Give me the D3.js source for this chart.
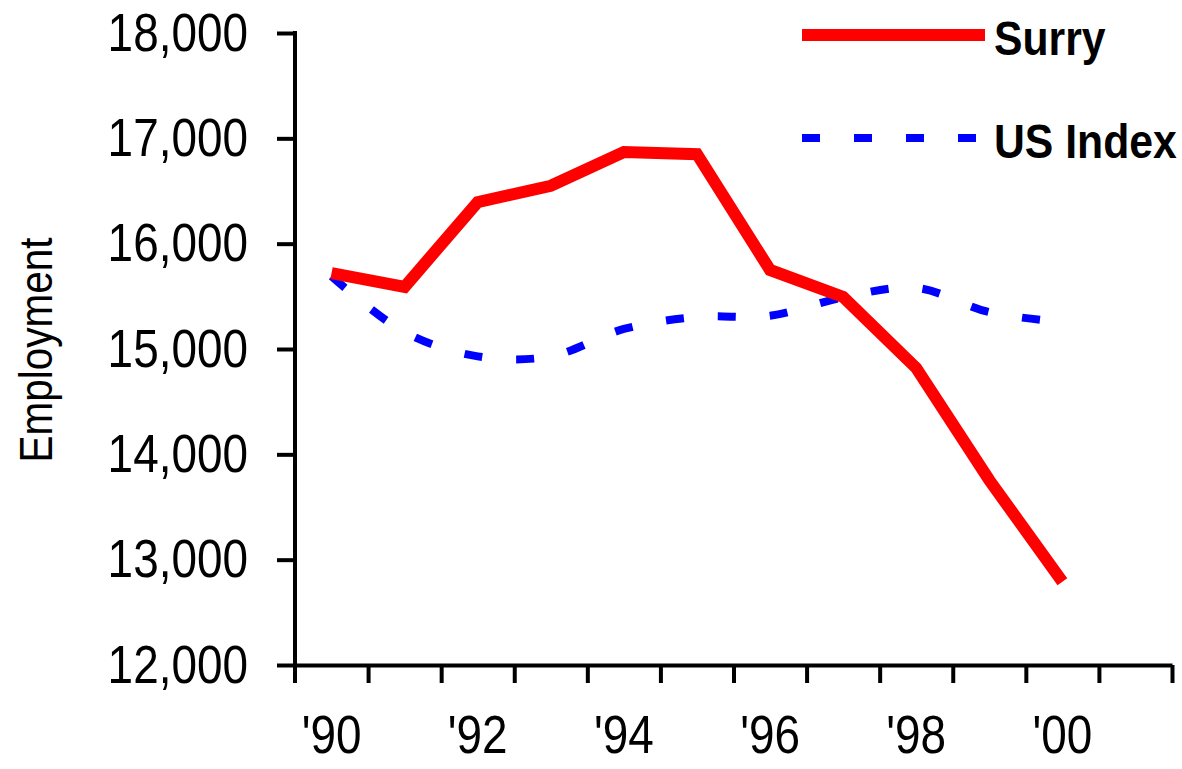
<!DOCTYPE html>
<html>
<head>
<meta charset="utf-8">
<script src="https://cdn.jsdelivr.net/npm/d3@7"></script>
<style>
  body { margin: 0; background: #fff; }
  svg text { font-family: "Liberation Sans", Arial, sans-serif; fill: #000; }
</style>
</head>
<body>
<div id="chart"></div>
<script>
// years on the category axis (the last one has no data)
const years = [1990, 1991, 1992, 1993, 1994, 1995, 1996, 1997, 1998, 1999, 2000, 2001];
const surry = [15720, 15590, 16395, 16550, 16870, 16850, 15750, 15495, 14820, 13755, 12790];
const usIndex = [15690, 15160, 14930, 14930, 15190, 15305, 15315, 15490, 15580, 15350, 15255];
const yTicks = [12000, 13000, 14000, 15000, 16000, 17000, 18000];

const width = 1182,
  height = 769;
const plot = { left: 295, right: 1172, top: 33, bottom: 665 };
const narrow = 0.85; // no narrow font installed, squeeze the regular one

const svg = d3
  .select("#chart")
  .append("svg")
  .attr("width", width)
  .attr("height", height);

const x = d3
  .scaleBand()
  .domain(years)
  .range([plot.left, plot.right]);

// same axis but for the tick marks that sit between categories
const xEdge = d3
  .scaleLinear()
  .domain([0, years.length])
  .range([plot.left, plot.right]);

const y = d3
  .scaleLinear()
  .domain([12000, 18000])
  .range([plot.bottom, plot.top]);

// y axis
svg
  .append("g")
  .attr("class", "y axis")
  .attr("transform", `translate(${plot.left},0)`)
  .call(
    d3.axisLeft(y)
      .tickValues(yTicks)
      .tickSize(18)
      .tickPadding(28)
      .tickSizeOuter(0)
      .tickFormat(d3.format(","))
  )
  .call((g) => g.select(".domain").remove())
  .call((g) => g.selectAll("line").attr("stroke", "#000").attr("stroke-width", 4))
  .call((g) =>
    g.selectAll("text")
      .attr("font-size", "54px")
      .attr("x", 0)
      .attr("transform", `translate(-47,0) scale(${narrow},1)`)
  );

svg
  .append("line")
  .attr("x1", plot.left)
  .attr("x2", plot.left)
  .attr("y1", plot.top - 2)
  .attr("y2", plot.bottom + 18)
  .attr("stroke", "#000")
  .attr("stroke-width", 4);

// x axis line + tick marks at the category edges
svg
  .append("g")
  .attr("class", "x axis")
  .attr("transform", `translate(0,${plot.bottom})`)
  .call(
    d3.axisBottom(xEdge)
      .tickValues(d3.range(1, years.length + 1))
      .tickSize(18)
      .tickSizeOuter(0)
      .tickFormat("")
  )
  .call((g) => g.select(".domain").attr("stroke", "#000").attr("stroke-width", 4))
  .call((g) => g.selectAll("line").attr("stroke", "#000").attr("stroke-width", 4));

// x labels, every other year
svg
  .append("g")
  .attr("class", "x labels")
  .attr("transform", `translate(0,${plot.bottom})`)
  .call(
    d3.axisBottom(x)
      .tickSize(0)
      .tickPadding(50)
      .tickFormat((d, i) => (i % 2 === 0 ? "'" + String(d).slice(2) : ""))
  )
  .call((g) => g.select(".domain").remove())
  .call((g) =>
    g.selectAll("text")
      .attr("font-size", "54px")
      .attr("transform", `scale(${narrow},1)`)
  );

// y axis title
svg
  .append("text")
  .attr("transform", "translate(52,350) rotate(-90) scale(0.88,1)")
  .attr("text-anchor", "middle")
  .attr("font-size", "46px")
  .text("Employment");

const xPos = (d, i) => x(years[i]) + x.bandwidth() / 2;

const surryLine = d3
  .line()
  .x(xPos)
  .y((d) => y(d));

const usLine = d3
  .line()
  .x(xPos)
  .y((d) => y(d))
  .curve(d3.curveCatmullRom.alpha(0.5));

svg
  .append("path")
  .datum(usIndex)
  .attr("fill", "none")
  .attr("stroke", "#0000ff")
  .attr("stroke-width", 8)
  .attr("stroke-dasharray", "18,34")
  .attr("d", usLine);

svg
  .append("path")
  .datum(surry)
  .attr("fill", "none")
  .attr("stroke", "#ff0000")
  .attr("stroke-width", 12)
  .attr("stroke-linejoin", "miter")
  .attr("d", surryLine);

// legend
const legend = [
  { name: "Surry", color: "#ff0000", w: 12, dash: null, y: 35, x2: 985 },
  { name: "US Index", color: "#0000ff", w: 8, dash: "18,34", y: 138, x2: 976 },
];

const lg = svg
  .selectAll(".legend")
  .data(legend)
  .enter()
  .append("g")
  .attr("class", "legend");

lg.append("line")
  .attr("x1", 802)
  .attr("x2", (d) => d.x2)
  .attr("y1", (d) => d.y)
  .attr("y2", (d) => d.y)
  .attr("stroke", (d) => d.color)
  .attr("stroke-width", (d) => d.w)
  .attr("stroke-dasharray", (d) => d.dash);

lg.append("text")
  .attr("transform", (d) => `translate(994,${d.y + 20}) scale(0.89,1)`)
  .attr("font-size", "48px")
  .attr("font-weight", "bold")
  .text((d) => d.name);
</script>
</body>
</html>
